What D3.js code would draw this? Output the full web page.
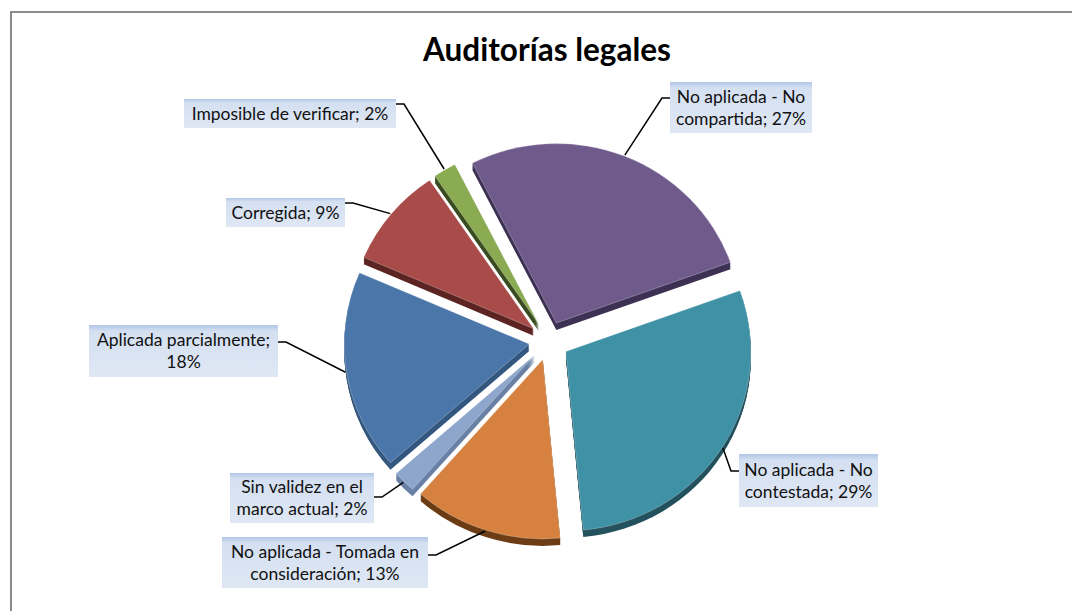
<!DOCTYPE html>
<html lang="es">
<head>
<meta charset="UTF-8">
<title>Auditorías legales</title>
<script src="https://d3js.org/d3.v7.min.js"></script>
<style>
  body {margin: 0; background: #fff;}
  svg text {font-family: Lato, "Open Sans", sans-serif; fill: #111;}
</style>
</head>
<body>
<svg width="1072" height="611"></svg>
<script>
// datos
const categories = ["Aplicada parcialmente", "Corregida", "Imposible de verificar",
  "No aplicada - No compartida", "No aplicada - No contestada",
  "No aplicada - Tomada en consideración", "Sin validez en el marco actual"];
const values = [18, 9, 2, 27, 29, 13, 2];
// number of words on the first line of each label (0 = single line)
const firstLineWords = [2, 0, 0, 4, 4, 5, 4];

const topColors  = ["#4a76a9", "#a94c49", "#8bab53", "#6f5a8c", "#3f91a6", "#d6813f", "#8ea6cc"];
const sideColors = ["#35587f", "#5c2523", "#3b4d22", "#3e3254", "#24525e", "#6d3d15", "#6981a5"];

// label boxes (layout only)
const labelBoxes = [
  {x: 89,  y: 325, w: 189, h: 52, side: "r", ly: 342},
  {x: 226, y: 198, w: 119, h: 29, side: "r", ly: 203},
  {x: 184, y: 99,  w: 212, h: 29, side: "r", ly: 104},
  {x: 670, y: 82,  w: 142, h: 51, side: "l", ly: 98},
  {x: 739, y: 454, w: 139, h: 53, side: "l", ly: 471},
  {x: 222, y: 537, w: 206, h: 51, side: "r", ly: 555},
  {x: 230, y: 473, w: 144, h: 50, side: "r", ly: 497}
];

const cx = 549, cy = 341, R = 185, tilt = 0.97, explode = 20, depth = 7;

const svg = d3.select("svg");

// gradient for label boxes
const defs = svg.append("defs");
const grad = defs.append("linearGradient").attr("id", "lblGrad")
  .attr("x1", 0).attr("y1", 0).attr("x2", 0).attr("y2", 1);
grad.append("stop").attr("offset", "0%").attr("stop-color", "#b2c6e8");
grad.append("stop").attr("offset", "12%").attr("stop-color", "#d4e0f1");
grad.append("stop").attr("offset", "100%").attr("stop-color", "#dfe7f4");

// frame
svg.append("path")
  .attr("d", "M11,611V12H1072")
  .attr("fill", "none").attr("stroke", "#8c8c8c").attr("stroke-width", 2);

// title
svg.append("text")
  .attr("x", 547).attr("y", 61)
  .attr("text-anchor", "middle")
  .style("font-size", "31.5px").style("font-weight", "700")
  .style("fill", "#000")
  .text("Auditorías legales");

const a0 = -131.4 * Math.PI / 180;
const pie = d3.pie().sort(null).value(d => d).startAngle(a0).endAngle(a0 + 2 * Math.PI);
const arcs = pie(values);
const arc = d3.arc().innerRadius(0).outerRadius(R);

arcs.forEach((a, i) => {
  a.mid = (a.startAngle + a.endAngle) / 2;
  a.ox = cx + explode * Math.sin(a.mid);
  a.oy = cy - explode * tilt * Math.cos(a.mid);
  a.i = i;
});

// back slices first
const order = arcs.slice().sort((p, q) => (-Math.cos(p.mid)) - (-Math.cos(q.mid)));

const pieG = svg.append("g");
order.forEach(a => {
  const g = pieG.append("g").attr("transform", `translate(${a.ox},${a.oy})`);
  for (let k = depth; k >= 1; k--) {
    g.append("path").attr("d", arc(a))
      .attr("transform", `translate(0,${k}) scale(1,${tilt})`)
      .attr("fill", sideColors[a.i]);
  }
  g.append("path").attr("d", arc(a))
    .attr("transform", `scale(1,${tilt})`)
    .attr("fill", topColors[a.i])
    .attr("stroke", "rgba(255,255,255,0.35)").attr("stroke-width", 0.8);
});

// leader lines
const line = d3.line();
arcs.forEach(a => {
  const b = labelBoxes[a.i];
  const ex = a.ox + (R + 1) * Math.sin(a.mid);
  const ey = a.oy - (R + 1) * tilt * Math.cos(a.mid);
  const bx = b.side === "r" ? b.x + b.w : b.x;
  const elbow = b.side === "r" ? bx + 8 : bx - 8;
  svg.append("path")
    .attr("d", line([[bx, b.ly], [elbow, b.ly], [ex, ey]]))
    .attr("fill", "none").attr("stroke", "#000").attr("stroke-width", 1.5);
});

// label boxes
arcs.forEach(a => {
  const b = labelBoxes[a.i];
  const g = svg.append("g");
  g.append("rect").attr("x", b.x).attr("y", b.y).attr("width", b.w).attr("height", b.h)
    .attr("fill", "url(#lblGrad)");
  const full = categories[a.i] + "; " + values[a.i] + "%";
  const words = full.split(" ");
  const n = firstLineWords[a.i];
  const lines = n ? [words.slice(0, n).join(" "), words.slice(n).join(" ")] : [full];
  const lh = 22;
  const y0 = b.y + b.h / 2 - (lines.length - 1) * lh / 2;
  lines.forEach((t, j) => {
    g.append("text")
      .attr("x", b.x + b.w / 2).attr("y", y0 + j * lh)
      .attr("dy", "0.36em")
      .attr("text-anchor", "middle")
      .style("font-size", "17.5px")
      .text(t);
  });
});
</script>
</body>
</html>
